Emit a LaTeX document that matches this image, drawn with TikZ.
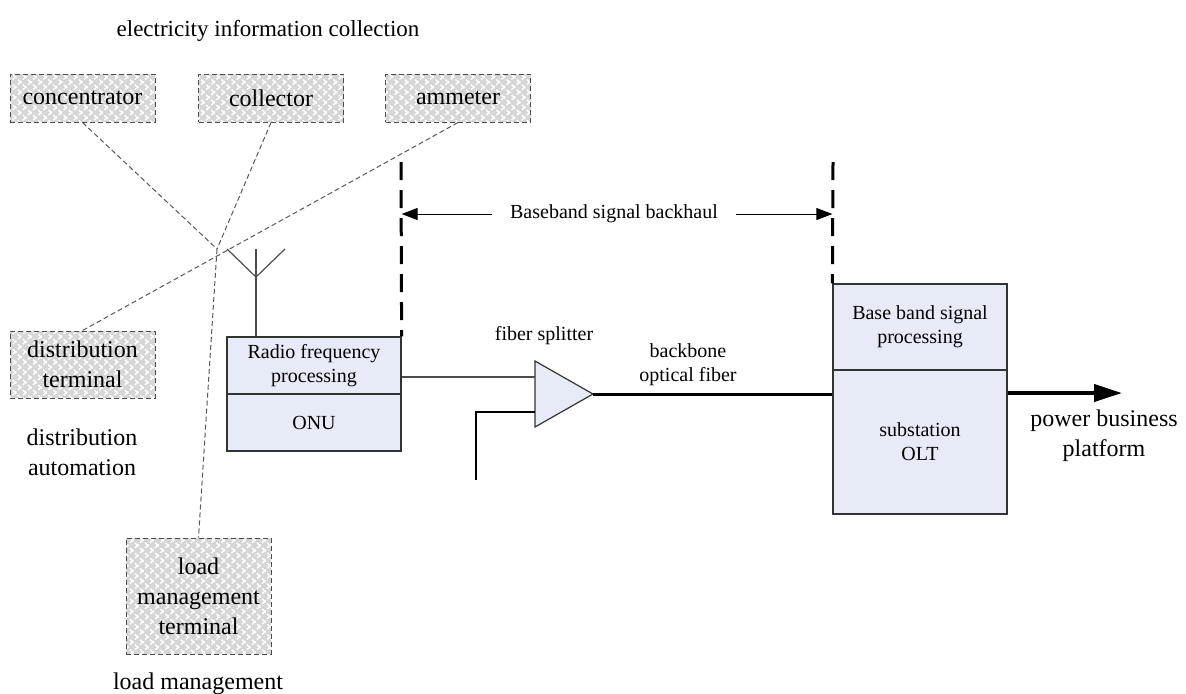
\documentclass[tikz,border=0pt]{standalone}
\usepackage{fontspec}
\setmainfont{Liberation Serif}
\usetikzlibrary{arrows.meta,patterns.meta}

\definecolor{hatchgray}{RGB}{214,214,214}
\definecolor{procblue}{RGB}{231,235,247}

\newcommand{\bigtxt}{\fontsize{12}{15}\selectfont}
\newcommand{\smalltxt}{\fontsize{10}{12}\selectfont}

\tikzset{
  graybox/.style={draw=black!70, line width=0.5pt, dash pattern=on 2.5pt off 1.5pt,
    preaction={fill=hatchgray},
    preaction={pattern={Lines[angle=45,distance=3.6pt,line width=0.7pt]}, pattern color=white},
    preaction={pattern={Lines[angle=-45,distance=3.6pt,line width=0.7pt]}, pattern color=white},
    minimum width=72.5pt, minimum height=24pt, align=center, inner sep=1pt, font=\bigtxt},
  procbox/.style={draw=black!80, line width=0.6pt, fill=procblue,
    minimum width=87pt, align=center, inner sep=1pt, font=\smalltxt},
  bigtext/.style={align=center, inner sep=1pt, font=\bigtxt},
  smalltext/.style={align=center, inner sep=1pt, font=\smalltxt},
  link/.style={draw=black!65, line width=0.5pt, dash pattern=on 2.5pt off 1.5pt},
  bound/.style={line width=1.5pt, dash pattern=on 9pt off 5pt},
  wire/.style={draw=black!70, line width=0.6pt},
}

\begin{document}
\begin{tikzpicture}[x=0.5pt, y=-0.5pt]
\useasboundingbox (0,0) rectangle (1186,693);

%% terminals
\node[graybox] at (82.5,98) (conc) {concentrator};
\node[graybox] at (271,98) (coll) {collector};
\node[graybox] at (458,98) (amm) {ammeter};
\node[graybox, minimum height=33.5pt] at (82.5,364.5) (dist) {distribution\\terminal};
\node[graybox, minimum height=58pt] at (198.5,596) (load) {load\\management\\terminal};

%% group labels
\node[bigtext, font=\fontsize{11.5}{14}\selectfont] at (268,31) (collect) {electricity information collection};
\node[bigtext] at (82,452) (auto) {distribution\\automation};
\node[bigtext] at (198,684) (loadmgmt) {load management};

%% dashed links to the wireless hub
\coordinate (hub) at (217,249);
\draw[link] (conc.south) -- (hub);
\draw[link] (coll.south) -- (hub);
\draw[link] (amm.south) -- (dist.north);
\draw[link] (hub) -- (load.north);

%% ONU
\node[procbox, minimum height=28.5pt] at (314,365.5) (rf) {Radio frequency\\processing};
\node[procbox, minimum height=28.5pt] at (314,422.5) (onu) {ONU};

%% antenna
\coordinate (anttop) at (256,249);
\coordinate (antv) at (256,277);
\draw[wire] (anttop) -- (anttop |- rf.north);
\draw[wire] (227,249) -- (antv) -- (285,249);

%% OLT
\node[procbox, minimum height=43pt] at (920,327) (bbp) {Base band signal\\processing};
\node[procbox, minimum height=72pt] at (920,442) (olt) {substation\\OLT};

%% splitter
\coordinate (splin1) at (535,377);
\coordinate (splin2) at (535,412);
\coordinate (splout) at (593,394);
\coordinate (fibend) at (476,480);
\draw[draw=black!80, line width=0.6pt, fill=procblue] (535,361) -- (splout) -- (535,427) -- cycle;
\node[smalltext] at (544,336) (spl) {fiber splitter};

%%% fibers
\draw[wire] (splin1 -| rf.east) -- (splin1);
\draw[black, line width=0.6pt] (fibend) |- (splin2);
\draw[black, line width=1.5pt] (splout) -- (splout -| olt.west);
\node[smalltext] at (688,364.5) (backbone) {backbone\\optical fiber};

%%% backhaul span
\draw[bound] (401,162) -- (rf.north east);
\draw[bound] (833,162) -- (bbp.north west);
\node[smalltext, inner xsep=9pt] at (614,214) (bbh) {Baseband signal backhaul};
\draw[line width=0.5pt, -{Triangle[length=8pt,width=6pt]}] (bbh.west) -- (bbh.west -| rf.east);
\draw[line width=0.5pt, -{Triangle[length=8pt,width=6pt]}] (bbh.east) -- (bbh.east -| bbp.west);

%%% uplink
\coordinate (plat) at (1122,393);
\draw[line width=2pt, -{Triangle[length=14pt,width=8.5pt]}] (plat -| olt.east) -- (plat);
\node[bigtext] at (1104,435.5) (power) {power business\\platform};
\end{tikzpicture}
\end{document}
